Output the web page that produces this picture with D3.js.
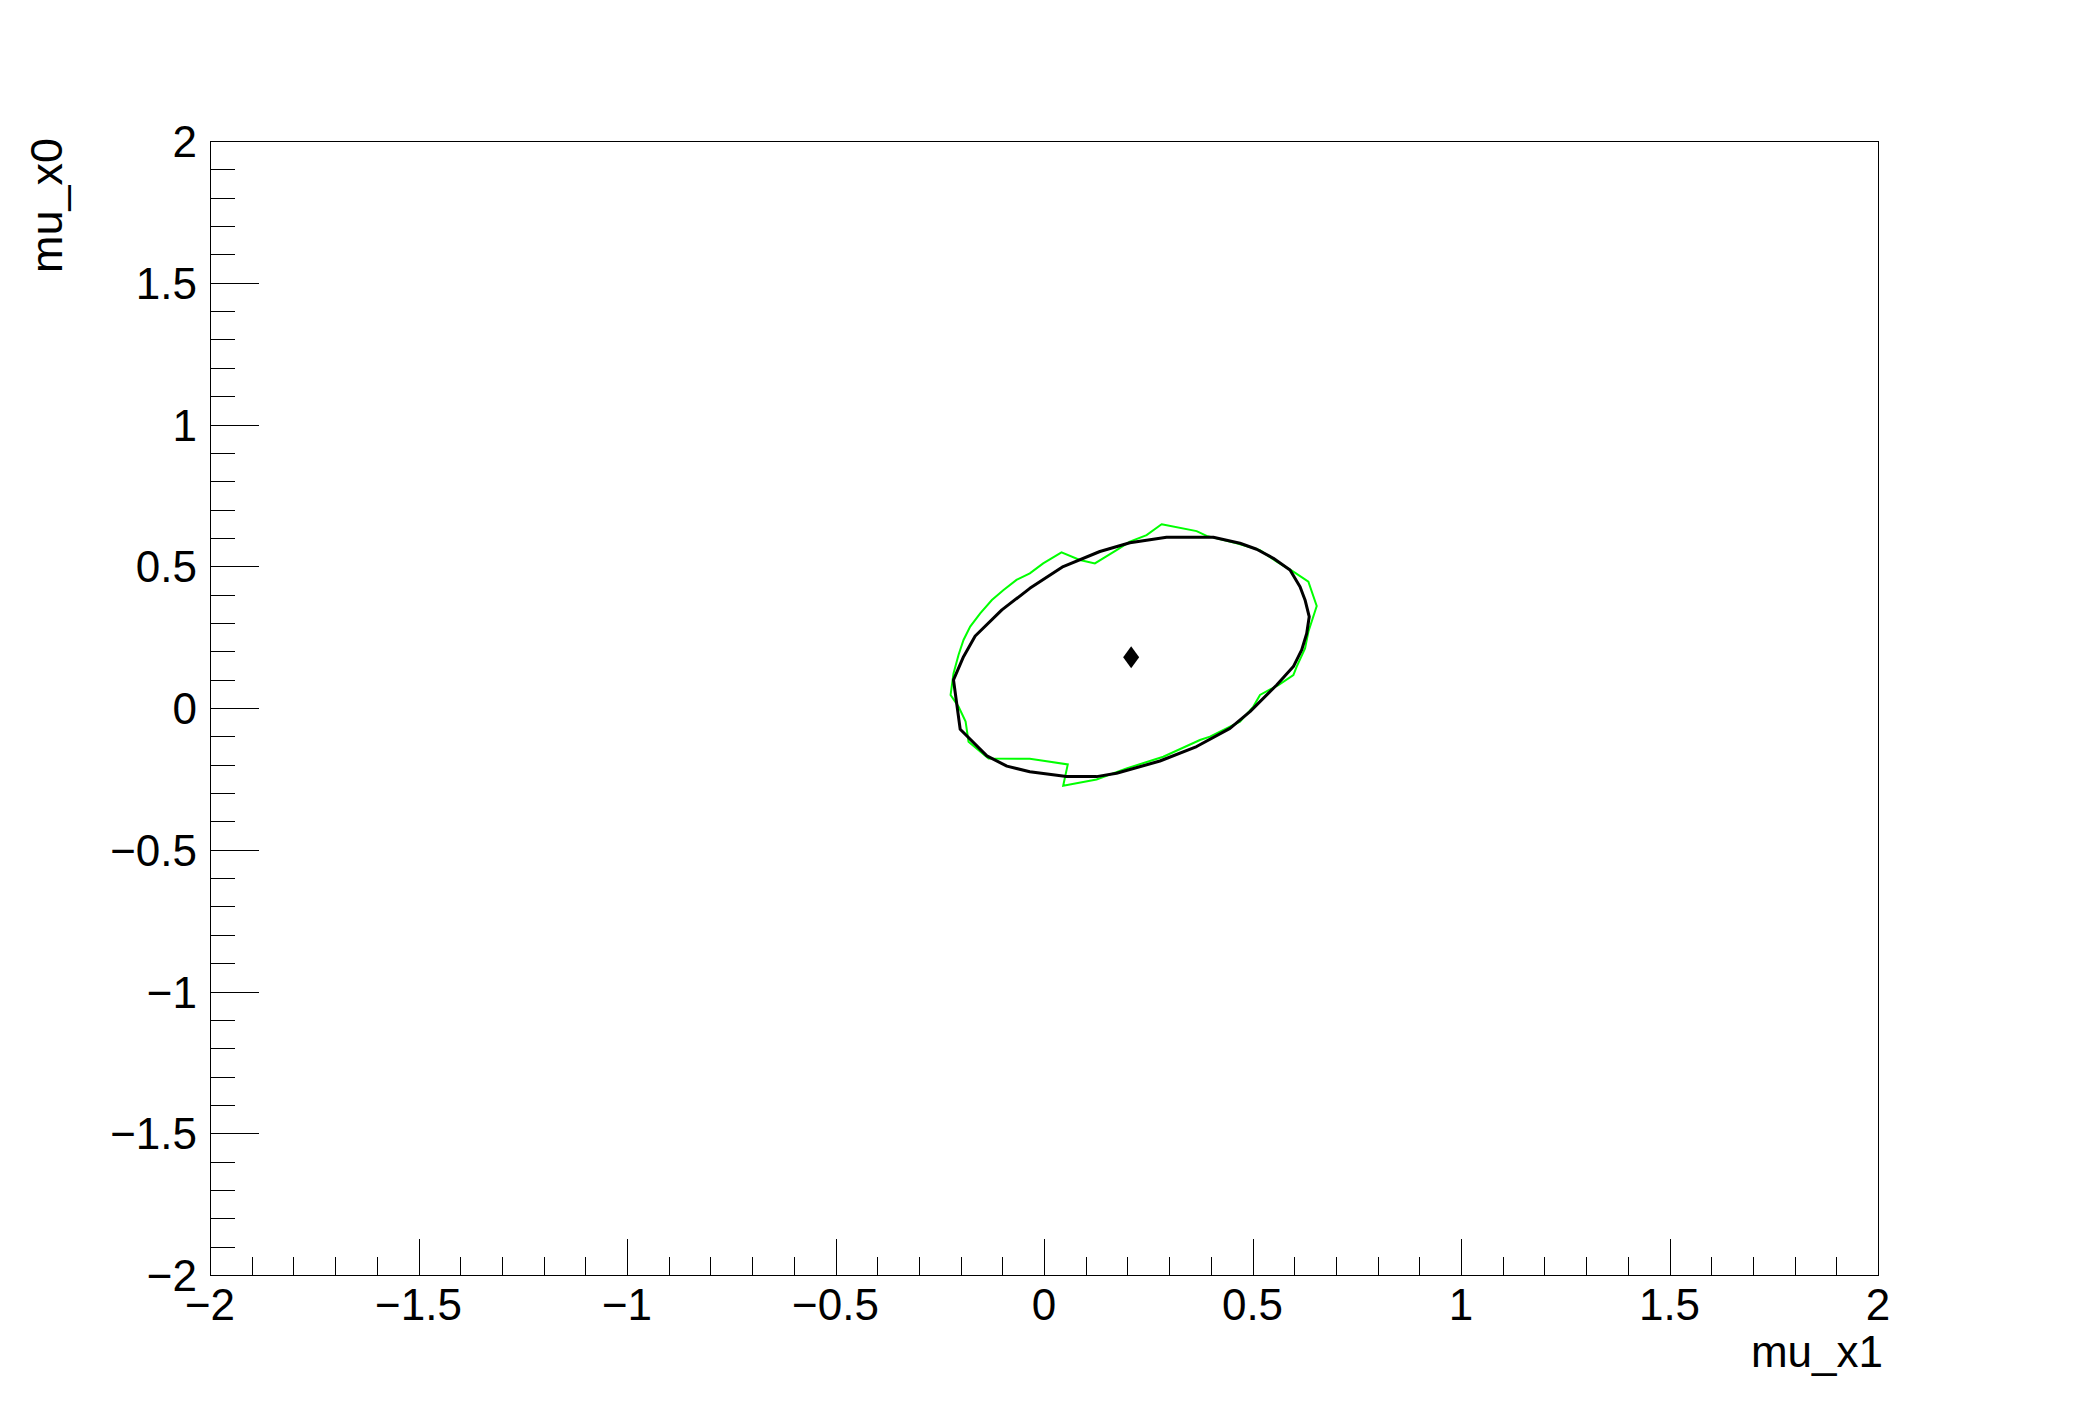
<!DOCTYPE html>
<html>
<head>
<meta charset="utf-8">
<script src="https://cdn.jsdelivr.net/npm/d3@7"></script>
<style>
  body { margin: 0; background: #fff; }
  text { font-family: "Liberation Sans", Arial, sans-serif; }
</style>
</head>
<body>
<svg id="chart" width="2088" height="1416"></svg>
<script>
// contour from the fit (black) and the profile scan (green), points as [mu_x1, mu_x0]
var contourX = [-0.217, -0.201, -0.137, -0.089, -0.034, 0.054, 0.126, 0.174, 0.278, 0.366,
  0.446, 0.494, 0.558, 0.598, 0.618, 0.630, 0.636, 0.626, 0.614, 0.590, 0.550, 0.510,
  0.470, 0.406, 0.294, 0.206, 0.134, 0.046, -0.034, -0.101, -0.165, -0.193];
var contourY = [0.099, -0.075, -0.169, -0.205, -0.225, -0.242, -0.242, -0.230, -0.187, -0.136,
  -0.072, -0.013, 0.081, 0.146, 0.205, 0.263, 0.322, 0.381, 0.428, 0.487, 0.528, 0.560,
  0.581, 0.602, 0.602, 0.583, 0.552, 0.499, 0.422, 0.346, 0.254, 0.181];

var scanX = [0.282, 0.366, 0.390, 0.462, 0.518, 0.558, 0.598, 0.634, 0.654, 0.634, 0.626,
  0.606, 0.598, 0.562, 0.518, 0.502, 0.470, 0.446, 0.398, 0.374, 0.286, 0.198, 0.126,
  0.046, 0.057, -0.034, -0.133, -0.181, -0.188, -0.205, -0.224, -0.217, -0.205, -0.193,
  -0.177, -0.153, -0.125, -0.097, -0.066, -0.034, -0.002, 0.042, 0.086, 0.122, 0.174,
  0.206, 0.246];
var scanY = [0.648, 0.624, 0.607, 0.581, 0.557, 0.516, 0.481, 0.446, 0.360, 0.269, 0.210,
  0.146, 0.116, 0.081, 0.046, 0.005, -0.048, -0.066, -0.101, -0.113, -0.172, -0.213, -0.252,
  -0.274, -0.199, -0.179, -0.178, -0.119, -0.048, 0.005, 0.046, 0.122, 0.187, 0.240,
  0.287, 0.334, 0.381, 0.416, 0.452, 0.475, 0.510, 0.549, 0.522, 0.510, 0.557,
  0.587, 0.610];

var bestFit = [0.209, 0.179];

var majorTicks = [-2, -1.5, -1, -0.5, 0, 0.5, 1, 1.5, 2];
var minorTicks = d3.range(-20, 21).map(function (i) { return i / 10; });

var svg = d3.select("#chart");
var padL = 210, padR = 1878, padT = 141, padB = 1275;

var x = d3.scaleLinear().domain([-2, 2]).range([padL, padR]);
var y = d3.scaleLinear().domain([-2, 2]).range([padB, padT]);

function fmt(v) {
  return (v < 0 ? "\u2212" : "") + Math.abs(v);
}

// frame
svg.append("rect")
  .attr("x", padL + 0.5).attr("y", padT + 0.5)
  .attr("width", padR - padL).attr("height", padB - padT)
  .attr("fill", "none").attr("stroke", "#000").attr("stroke-width", 1);

// x ticks
svg.selectAll(".xminor").data(minorTicks).enter().append("line")
  .attr("x1", function (d) { return Math.round(x(d)) + 0.5; })
  .attr("x2", function (d) { return Math.round(x(d)) + 0.5; })
  .attr("y1", padB)
  .attr("y2", function (d) { return majorTicks.indexOf(d) >= 0 ? padB - 36 : padB - 18; })
  .attr("stroke", "#000").attr("stroke-width", 1);

svg.selectAll(".xlabel").data(majorTicks).enter().append("text")
  .attr("x", function (d) { return x(d); })
  .attr("y", 1320)
  .attr("text-anchor", "middle")
  .attr("font-size", 44)
  .text(fmt);

// y ticks
svg.selectAll(".yminor").data(minorTicks).enter().append("line")
  .attr("y1", function (d) { return Math.round(y(d)) + 0.5; })
  .attr("y2", function (d) { return Math.round(y(d)) + 0.5; })
  .attr("x1", padL)
  .attr("x2", function (d) { return majorTicks.indexOf(d) >= 0 ? padL + 49 : padL + 25; })
  .attr("stroke", "#000").attr("stroke-width", 1);

svg.selectAll(".ylabel").data(majorTicks).enter().append("text")
  .attr("x", 197)
  .attr("y", function (d) { return y(d) + 16; })
  .attr("text-anchor", "end")
  .attr("font-size", 44)
  .text(fmt);

// axis titles
svg.append("text")
  .attr("x", 1883).attr("y", 1367)
  .attr("text-anchor", "end")
  .attr("font-size", 44)
  .text("mu_x1");

svg.append("text")
  .attr("transform", "translate(62," + (padT - 3) + ") rotate(-90)")
  .attr("text-anchor", "end")
  .attr("font-size", 45)
  .text("mu_x0");

var line = d3.line()
  .x(function (d) { return x(d[0]); })
  .y(function (d) { return y(d[1]); })
  .curve(d3.curveLinearClosed);

var scan = scanX.map(function (v, i) { return [v, scanY[i]]; });
var contour = contourX.map(function (v, i) { return [v, contourY[i]]; });

svg.append("path")
  .attr("d", line(scan))
  .attr("fill", "none").attr("stroke", "#00ff00").attr("stroke-width", 2);

svg.append("path")
  .attr("d", line(contour))
  .attr("fill", "none").attr("stroke", "#000").attr("stroke-width", 3)
  .attr("stroke-linejoin", "round");

// best fit marker (diamond)
var cx = x(bestFit[0]), cy = y(bestFit[1]);
svg.append("path")
  .attr("d", "M" + cx + "," + (cy - 11) + "L" + (cx + 8) + "," + cy +
    "L" + cx + "," + (cy + 11) + "L" + (cx - 8) + "," + cy + "Z")
  .attr("fill", "#000");
</script>
</body>
</html>
